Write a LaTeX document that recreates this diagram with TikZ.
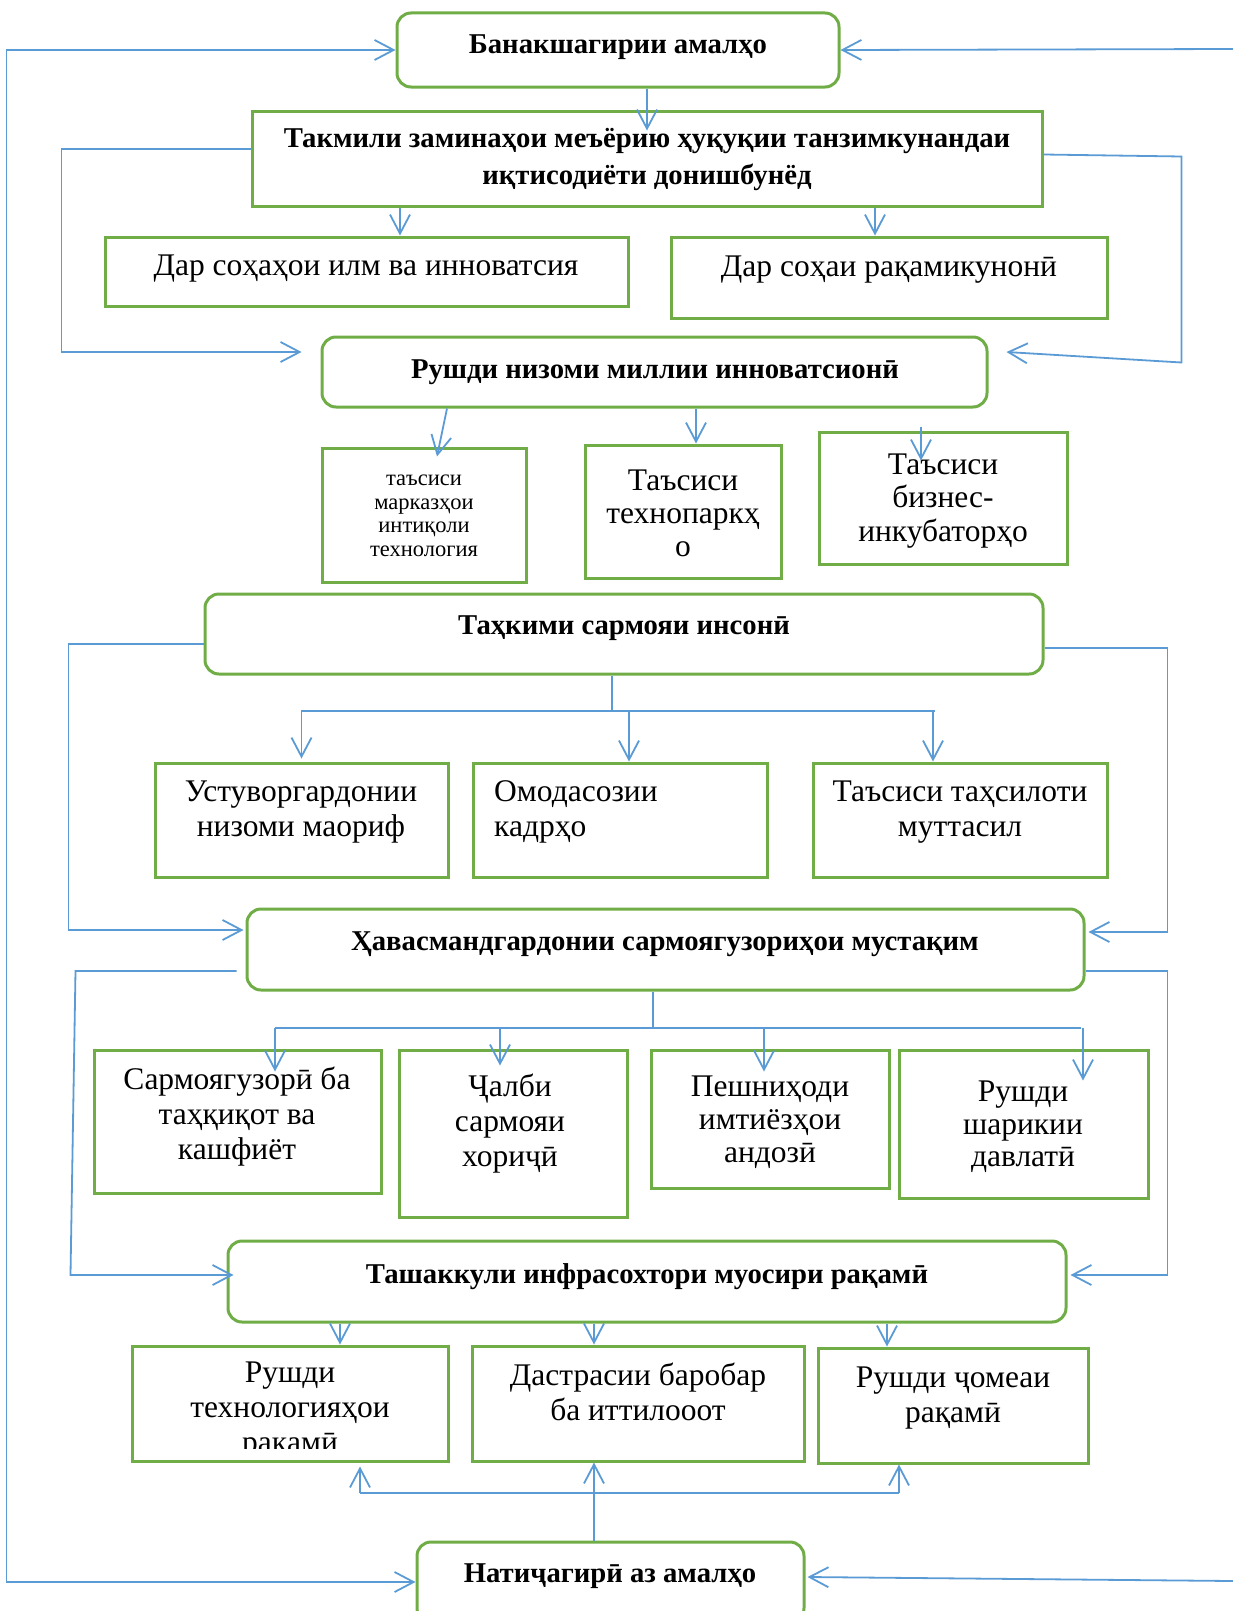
\documentclass[tikz,border=0pt]{standalone}
\usepackage{fontspec}
\setmainfont{Liberation Serif}
\usetikzlibrary{arrows.meta}
\definecolor{boxgreen}{HTML}{70AD47}
\definecolor{arrblue}{HTML}{5B9BD5}

\begin{document}
\begin{tikzpicture}[x=1pt,y=-1pt,
  box/.style={draw=boxgreen,line width=3pt,inner sep=0pt},
  rbox/.style={box,rounded corners=14pt},
  txt/.style={inner sep=0pt,align=center,font=\fontsize{31.5}{35}\selectfont},
  small/.style={inner sep=0pt,align=center,font=\fontsize{22.5}{23.5}\selectfont},
  hd/.style={inner sep=0pt,align=center,font=\fontsize{28.7}{37}\selectfont\bfseries},
  con/.style={draw=arrblue,line width=1.8pt},
  >={Straight Barb[length=19pt,width=20pt]}]
\useasboundingbox (0,0) rectangle (1233,1611);

% boxes
\node[rbox,minimum width=442pt,minimum height=74pt] (amal) at (618,50) {};
\node[box,minimum width=790pt,minimum height=95pt] (takmil) at (647,158.5) {};
\node[box,minimum width=523pt,minimum height=69pt] (ilm) at (366.5,271.5) {};
\node[box,minimum width=436pt,minimum height=81pt] (raqam) at (889,277.5) {};
\node[rbox,minimum width=665pt,minimum height=70pt] (rushd) at (654.5,372) {};
\node[box,minimum width=204pt,minimum height=134pt] (markaz) at (424,515) {};
\node[box,minimum width=196pt,minimum height=133pt] (techno) at (683,511.5) {};
\node[box,minimum width=248pt,minimum height=132pt] (biznes) at (943,498) {};
\node[rbox,minimum width=838pt,minimum height=80pt] (tahkim) at (624,634) {};
\node[box,minimum width=293pt,minimum height=114pt] (maorif) at (301.5,820) {};
\node[box,minimum width=294pt,minimum height=114pt] (kadr) at (620,820) {};
\node[box,minimum width=294pt,minimum height=114pt] (tahsil) at (960,820) {};
\node[rbox,minimum width=837pt,minimum height=81pt] (havas) at (665.5,949.5) {};
\node[box,minimum width=287pt,minimum height=143pt] (sarmoya) at (237.5,1121.5) {};
\node[box,minimum width=228pt,minimum height=167pt] (jalb) at (513,1133.5) {};
\node[box,minimum width=238pt,minimum height=138pt] (andoz) at (770,1119) {};
\node[box,minimum width=249pt,minimum height=148pt] (sharik) at (1023.5,1124) {};
\node[rbox,minimum width=838pt,minimum height=81pt] (tashakkul) at (647,1281.5) {};
\node[box,minimum width=316pt,minimum height=115pt] (techraq) at (290,1403.5) {};
\node[box,minimum width=332pt,minimum height=115pt] (dastras) at (638,1403.5) {};
\node[box,minimum width=270pt,minimum height=115pt] (jomea) at (953,1405.5) {};
\node[rbox,minimum width=387pt,minimum height=80pt] (natija) at (610.5,1582) {};

% texts
\node[hd] (amal-t) at (618,47) {Банакшагирии амалҳо};
\node[hd] (takmil-t) at (647,159) {Такмили заминаҳои меъёрию ҳуқуқии танзимкунандаи\\иқтисодиёти донишбунёд};
\node[txt] (ilm-t) at (366,269) {Дар соҳаҳои илм ва инноватсия};
\node[txt] (raqam-t) at (889,270) {Дар соҳаи рақамикунонӣ};
\node[hd] (rushd-t) at (655,372) {Рушди низоми миллии инноватсионӣ};
\node[small] (markaz-t) at (424,516) {таъсиси\\марказҳои\\интиқоли\\технология};
\node[txt,font=\fontsize{31.5}{33}\selectfont] (techno-t) at (683,513) {Таъсиси\\технопаркҳ\\о};
\node[txt,font=\fontsize{31.5}{33.5}\selectfont] (biznes-t) at (943,501) {Таъсиси\\бизнес-\\инкубаторҳо};
\node[hd] (tahkim-t) at (624,628) {Таҳкими сармояи инсонӣ};
\node[txt] (maorif-t) at (301,812) {Устуворгардонии\\низоми маориф};
\node[txt,align=left,anchor=west] (kadr-t) at (494,812) {Омодасозии\\кадрҳо};
\node[txt] (tahsil-t) at (960,812) {Таъсиси таҳсилоти\\муттасил};
\node[hd] (havas-t) at (665,944) {Ҳавасмандгардонии сармоягузориҳои мустақим};
\node[txt] (sarmoya-t) at (237,1117) {Сармоягузорӣ ба\\таҳқиқот ва\\кашфиёт};
\node[txt] (jalb-t) at (510,1124) {Ҷалби\\сармояи\\хориҷӣ};
\node[txt,font=\fontsize{31.5}{33}\selectfont] (andoz-t) at (770,1122) {Пешниҳоди\\имтиёзҳои\\андозӣ};
\node[txt,font=\fontsize{31.5}{32.5}\selectfont] (sharik-t) at (1023,1127) {Рушди\\шарикии\\давлатӣ};
\node[hd] (tashakkul-t) at (647,1277) {Ташаккули инфрасохтори муосири рақамӣ};
\begin{scope}
\clip (techraq.north west) rectangle ([yshift=14]techraq.south east);
\node[txt] (techraq-t) at (290,1411) {Рушди\\технологияҳои\\рақамӣ};
\end{scope}
\node[txt] (dastras-t) at (638,1392) {Дастрасии баробар\\ба иттилооот};
\node[txt] (jomea-t) at (953,1398) {Рушди ҷомеаи\\рақамӣ};
\node[hd] (natija-t) at (610,1576) {Натиҷагирӣ аз амалҳо};

% outer loop
\coordinate (rt) at (1233,49);
\coordinate (rb) at (1233,1581);
\draw[con,<->] (amal.west) -- ++(-389,0) |- (natija.west);
\draw[con,->] (rt) -- (amal.east);
\draw[con,->] (rb) -- ([xshift=2,yshift=5]natija.east);

% level 1-2
\draw[con,->] (amal.south -| takmil.north) -- ([yshift=-21]takmil.north);
\draw[con,->] (takmil.south -| 400,0) -- (ilm.north -| 400,0);
\draw[con,->] (takmil.south -| 875,0) -- (raqam.north -| 875,0);
\draw[con,->] ([yshift=9.5]takmil.west) -- ++(-189,0) |- ([xshift=-19,yshift=20]rushd.west);
\draw[con,->] ([yshift=4]takmil.east) -- ++(138,2) -- ++(0,206) -- ([xshift=18,yshift=20]rushd.east);

% level 3
\draw[con,->] (rushd.south -| 447,0) -- ([xshift=13,yshift=-10]markaz.north);
\draw[con,->] (rushd.south -| 696,0) -- (techno.north -| 696,0);
\draw[con,->] ([xshift=-22,yshift=4]biznes.north) -- ([xshift=-22,yshift=-30]biznes.north);

% level 4
\coordinate (fork4) at (612,711);
\draw[con] (tahkim.south -| fork4) -- (fork4);
\draw[con] (fork4 -| 301,0) -- (fork4 -| 935,0);
\draw[con,->] (fork4 -| maorif.north) -- ([yshift=3]maorif.north);
\draw[con,->] (fork4 -| 629,0) -- (kadr.north -| 629,0);
\draw[con,->] (fork4 -| 933,0) -- (tahsil.north -| 933,0);
\draw[con,->] ([yshift=-10]tahkim.west) -- ++(-135,0) |- ([xshift=-2,yshift=19.5]havas.west);
\draw[con,->] ([yshift=-14]tahkim.east) -- ++(123,0) |- ([xshift=3,yshift=17.5]havas.east);

% level 5
\coordinate (fork5) at (653,1028);
\draw[con] (havas.south -| fork5) -- (fork5);
\draw[con] (fork5 -| 275,0) -- (fork5 -| 1081,0);
\draw[con,->] (fork5 -| 275,0) -- ([xshift=37.5,yshift=-23]sarmoya.north);
\draw[con,->] (fork5 -| 500,0) -- ([xshift=-13,yshift=-17]jalb.north);
\draw[con,->] (fork5 -| 764,0) -- ([xshift=-6,yshift=-23]andoz.north);
\draw[con,->] (fork5 -| 1083,0) -- ([xshift=59.5,yshift=-32]sharik.north);
\draw[con,->] ([xshift=-9,yshift=-21.5]havas.west) -- ++(-161,0) -- ++(-5,304) -- ([xshift=7,yshift=6.5]tashakkul.west);
\draw[con,->] ([yshift=-21.5]havas.east) -- ++(82,0) |- ([xshift=3,yshift=6.5]tashakkul.east);

% level 6
\draw[con,->] (tashakkul.south -| 340,0) -- (techraq.north -| 340,0);
\draw[con,->] (tashakkul.south -| 594,0) -- (dastras.north -| 594,0);
\draw[con,->] (tashakkul.south -| 887,0) -- (jomea.north -| 887,0);

% results
\coordinate (fork7) at (594,1493);
\draw[con,->] (natija.north -| fork7) -- (dastras.south -| fork7);
\draw[con] (fork7 -| 360,0) -- (fork7 -| 899,0);
\draw[con,->] (fork7 -| 360,0) -- ([yshift=-4]techraq.south -| 360,0);
\draw[con,->] (fork7 -| 899,0) -- (jomea.south -| 899,0);
\end{tikzpicture}
\end{document}
